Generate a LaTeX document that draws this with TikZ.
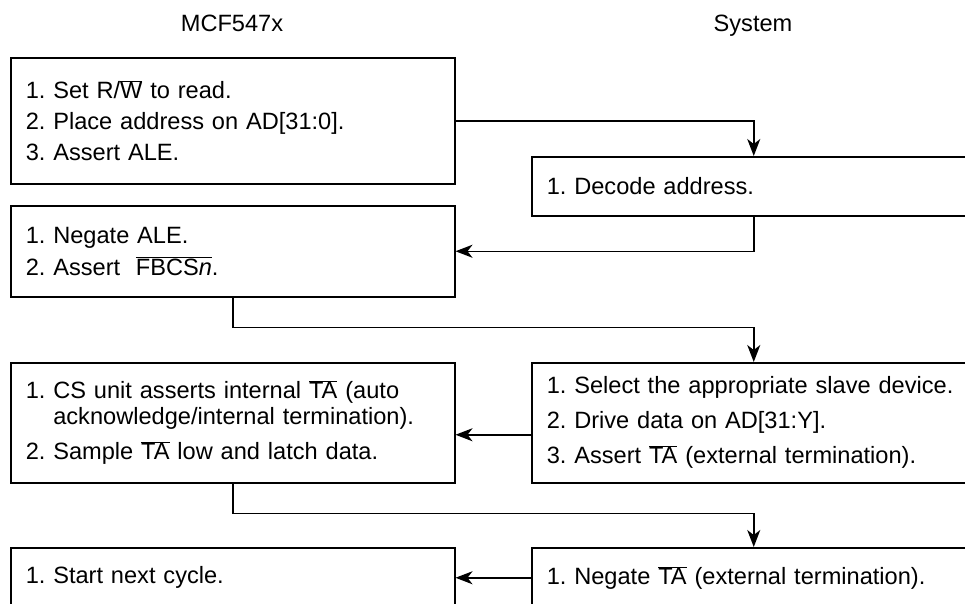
\documentclass[tikz,border=0pt]{standalone}
\usepackage{fontspec}
\setmainfont{Liberation Sans}
\usetikzlibrary{arrows.meta,positioning}
\newcommand{\actlow}[1]{$\overline{\mbox{#1}}$}
\tikzset{
  stepbox/.style={rectangle,draw,line width=1.5pt,anchor=north west,
                  minimum width=444pt,text width=414pt,inner xsep=15pt,
                  inner ysep=0pt,align=left},
  colhead/.style={inner sep=0pt,anchor=base},
  flow/.style={-{Stealth[length=17pt,width=13pt,inset=5pt]},line width=1.5pt}
}
\begin{document}
\begin{tikzpicture}[x=1pt,y=-1pt,font=\fontsize{23.6}{26}\selectfont]
  \useasboundingbox (0,0) rectangle (965,603);
  \clip (0,0) rectangle (965,603);
  % column heads
  \node[colhead] (mcf) at (232,31.5) {MCF547x};
  \node[colhead] (sys) at (753,31.5) {System};
  % MCF547x side
  \node[stepbox,minimum height=126pt] (setrd) at (10,57)
    {1.\ Set R/\actlow{W} to read.\\[5pt]
     2.\ Place address on AD[31:0].\\[5pt]
     3.\ Assert ALE.};
  \node[stepbox,minimum height=91pt] (negale) at (10,205)
    {1.\ Negate ALE.\\[6pt]
     2.\ Assert\ \ \actlow{FBCS\textit{n}}.};
  \node[stepbox,minimum height=120pt] (latch) at (10,362)
    {1.\ CS unit asserts internal \actlow{TA} (auto\\
     \hphantom{1.\ }acknowledge/internal termination).\\[9pt]
     2.\ Sample \actlow{TA} low and latch data.};
  \node[stepbox,minimum height=60pt] (next) at (10,547)
    {1.\ Start next cycle.};
  % system side
  \node[stepbox,minimum height=59pt] (decode) at (531,156)
    {1.\ Decode address.};
  \node[stepbox,minimum height=120pt] (drive) at (531,362)
    {1.\ Select the appropriate slave device.\\[9pt]
     2.\ Drive data on AD[31:Y].\\[9pt]
     3.\ Assert \actlow{TA} (external termination).};
  \node[stepbox,minimum height=60pt] (negta) at (531,547)
    {1.\ Negate \actlow{TA} (external termination).};
  % handshakes
  \draw[flow] (setrd.east) -| (decode.north);
  \draw[flow] (decode.south) |- (negale.east);
  \draw[flow] (negale.south) -- ++(0,30) -| (drive.north);
  \draw[flow] ([yshift=-12pt]drive.west) -- ([yshift=-12pt]latch.east);
  \draw[flow] (latch.south) -- ++(0,30) -| (negta.north);
  \draw[flow] (negta.west) -- (next.east);
\end{tikzpicture}
\end{document}
